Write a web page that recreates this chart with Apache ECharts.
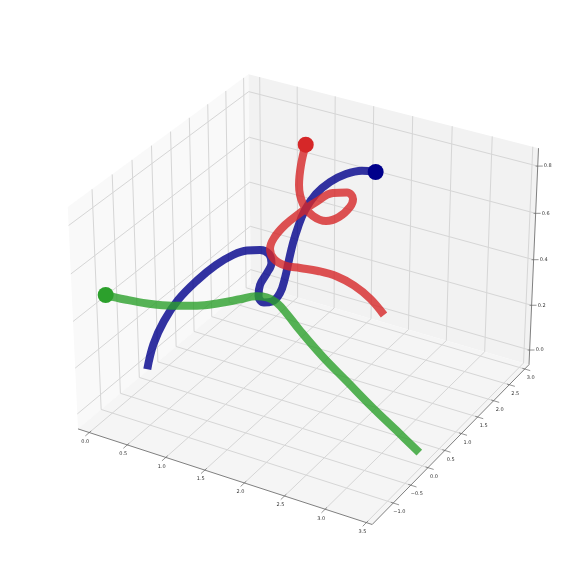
<!DOCTYPE html>
<html style="height: 100%">
    <head>
        <meta charset="utf-8">
        <title>3D trajectories</title>
        <script type="text/javascript" src="https://cdn.jsdelivr.net/npm/echarts@6/dist/echarts.min.js"></script>
    </head>
    <body style="height: 100%; margin: 0; background: #fff">
        <div id="container" style="width: 586px; height: 586px"></div>
        <script type="text/javascript">

        // axis ticks
        var xTicks = [0, 0.5, 1, 1.5, 2, 2.5, 3, 3.5];
        var yTicks = [-1, -0.5, 0, 0.5, 1, 1.5, 2, 2.5, 3];
        var zTicks = [0, 0.2, 0.4, 0.6, 0.8];
        var xLim = [-0.15, 3.57];
        var yLim = [-1.59, 3.14];
        var zLim = [-0.066, 0.875];

        // red trajectory
        var redX = [1.094,1.180,1.231,1.327,1.426,1.529,1.555,1.520,1.430,1.266,1.106,0.991,0.909,0.823,0.760,0.716,0.766,0.872,0.971,1.108,1.259,1.432,1.641,1.867];
        var redY = [2.081,1.758,1.590,1.492,1.556,1.699,2.016,2.417,2.712,2.905,2.850,2.607,2.320,2.076,1.895,1.874,1.878,1.965,2.183,2.410,2.638,2.760,2.772,2.680];
        var redZ = [.80,.76,.70,.64,.59,.56,.54,.53,.52,.51,.50,.48,.46,.43,.39,.34,.30,.27,.24,.21,.17,.13,.09,.05];

        // blue trajectory
        var blueX = [1.819,1.644,1.472,1.356,1.279,1.252,1.274,1.303,1.352,1.412,1.428,1.368,1.250,1.098,0.986,0.942,0.896,0.792,0.656,0.506,0.394,0.264,0.153,0.062,0.038,0.071,0.144];
        var blueY = [2.478,2.479,2.401,2.198,1.966,1.713,1.466,1.261,1.040,0.797,0.623,0.529,0.560,0.733,1.013,1.303,1.529,1.682,1.718,1.669,1.510,1.305,1.006,0.665,0.328,-0.026,-0.347];
        var blueZ = [.70,.69,.67,.65,.62,.58,.54,.50,.46,.42,.38,.35,.33,.32,.32,.33,.34,.35,.35,.34,.33,.30,.26,.21,.16,.11,.05];

        // green trajectory
        var greenX = [0.277,0.451,0.617,0.764,0.916,1.022,1.117,1.183,1.275,1.381,1.522,1.776,2.129,2.491,2.863,3.201,3.529];
        var greenY = [-1.563,-1.426,-1.205,-0.869,-0.533,-0.147,0.191,0.486,0.590,0.639,0.611,0.420,0.284,0.152,0.045,-0.046,-0.168];
        var greenZ = [.55,.53,.50,.46,.43,.40,.38,.36,.35,.33,.30,.28,.22,.17,.11,.06,.02];

        // camera, same maths as a default mplot3d view (elev 30, azim -60)
        var SCALE = 295, CX = 307.5, CY = 289, DIST = 10;
        var BOX_XY = 1.1428, BOX_Z = 0.8572;
        var el = 30 * Math.PI / 180, az = -60 * Math.PI / 180;
        var ux = -Math.sin(az), uy = Math.cos(az);
        var ex = Math.cos(el) * Math.cos(az), ey = Math.cos(el) * Math.sin(az), ez = Math.sin(el);
        var vx = -ez * uy, vy = ez * ux, vz = ex * uy - ey * ux;

        function project(x, y, z) {
            var X = ((x - xLim[0]) / (xLim[1] - xLim[0]) - 0.5) * BOX_XY;
            var Y = ((y - yLim[0]) / (yLim[1] - yLim[0]) - 0.5) * BOX_XY;
            var Z = ((z - zLim[0]) / (zLim[1] - zLim[0]) - 0.5) * BOX_Z;
            var f = DIST / (DIST - (ex * X + ey * Y + ez * Z));
            return [CX + SCALE * (ux * X + uy * Y) * f, CY - SCALE * (vx * X + vy * Y + vz * Z) * f];
        }

        function track(xs, ys, zs) {
            return xs.map(function (x, i) { return project(x, ys[i], zs[i]); });
        }

        var x0 = xLim[0], x1 = xLim[1], y0 = yLim[0], y1 = yLim[1], z0 = zLim[0], z1 = zLim[1];

        var panes = [
            { fill: '#f9f9f9', pts: [[x0,y0,z0],[x0,y1,z0],[x0,y1,z1],[x0,y0,z1]] },
            { fill: '#f2f2f2', pts: [[x0,y1,z0],[x1,y1,z0],[x1,y1,z1],[x0,y1,z1]] },
            { fill: '#f5f5f5', pts: [[x0,y0,z0],[x1,y0,z0],[x1,y1,z0],[x0,y1,z0]] }
        ];

        var gridLines = [];
        xTicks.forEach(function (t) { gridLines.push([[t,y0,z0],[t,y1,z0],[t,y1,z1]]); });
        yTicks.forEach(function (t) { gridLines.push([[x1,t,z0],[x0,t,z0],[x0,t,z1]]); });
        zTicks.forEach(function (t) { gridLines.push([[x0,y0,t],[x0,y1,t],[x1,y1,t]]); });

        var axisLines = [[[x0,y0,z0],[x1,y0,z0]], [[x1,y0,z0],[x1,y1,z0]], [[x1,y1,z0],[x1,y1,z1]]];

        var tickMarks = [];
        var tickLabels = [];
        function fmt(t) {
            return t.toFixed(1).replace('-', '\u2212');
        }
        xTicks.forEach(function (t) {
            tickMarks.push([[t,y0-0.1,z0],[t,y0+0.05,z0]]);
            tickLabels.push({ at: [t,y0,z0], dx: -4, dy: 9, text: fmt(t) });
        });
        yTicks.forEach(function (t) {
            tickMarks.push([[x1+0.07,t,z0],[x1-0.03,t,z0]]);
            tickLabels.push({ at: [x1,t,z0], dx: 6, dy: 9, text: fmt(t) });
        });
        zTicks.forEach(function (t) {
            tickMarks.push([[x1+0.048,y1+0.037,t],[x1-0.02,y1-0.015,t]]);
            tickLabels.push({ at: [x1,y1,t], dx: 10, dy: 0, text: fmt(t) });
        });

        function flat(p) { return project(p[0], p[1], p[2]); }

        // box, grid and ticks, all one custom item
        function renderBox(params, api) {
            var kids = [];
            function pix(p) { return api.coord(flat(p)); }
            panes.forEach(function (p) {
                kids.push({ type: 'polygon', shape: { points: p.pts.map(pix) }, style: { fill: p.fill } });
            });
            gridLines.forEach(function (l) {
                kids.push({ type: 'polyline', shape: { points: l.map(pix) }, style: { fill: null, stroke: '#d6d6d6', lineWidth: 1 } });
            });
            axisLines.forEach(function (l) {
                kids.push({ type: 'polyline', shape: { points: l.map(pix) }, style: { fill: null, stroke: '#808080', lineWidth: 1 } });
            });
            tickMarks.forEach(function (l) {
                kids.push({ type: 'polyline', shape: { points: l.map(pix) }, style: { fill: null, stroke: '#666', lineWidth: 0.7 } });
            });
            tickLabels.forEach(function (l) {
                var c = pix(l.at);
                kids.push({ type: 'text', style: { x: c[0] + l.dx, y: c[1] + l.dy, text: l.text, fill: '#333', align: 'center', verticalAlign: 'middle', font: "5px 'DejaVu Sans'" } });
            });
            return { type: 'group', children: kids };
        }

        function pathSeries(name, data, color, z) {
            return {
                name: name, type: 'line', data: data, z: z, smooth: 0.4, showSymbol: false, symbol: 'none', clip: false,
                lineStyle: { color: color, width: 8, opacity: 0.8, cap: 'butt', join: 'round' }
            };
        }
        function startSeries(name, point, color) {
            return { name: name, type: 'scatter', data: [point], z: 10, symbol: 'circle', symbolSize: 16, clip: false, itemStyle: { color: color, opacity: 1 } };
        }

        var blue = track(blueX, blueY, blueZ);
        var red = track(redX, redY, redZ);
        var green = track(greenX, greenY, greenZ);

        var myChart = echarts.init(document.getElementById('container'), null, { renderer: 'canvas' });
        var option = {
            animation: false,
            backgroundColor: '#fff',
            tooltip: { show: false },
            grid: { left: 0, right: 0, top: 0, bottom: 0 },
            xAxis: { type: 'value', min: 0, max: 586, show: false },
            yAxis: { type: 'value', min: 0, max: 586, inverse: true, show: false },
            series: [
                { type: 'custom', z: 1, data: [[0, 0]], renderItem: renderBox, silent: true, clip: false },
                pathSeries('blue', blue, '#00008b', 3),
                pathSeries('green', green, '#2ca02c', 4),
                pathSeries('red', red, '#d62728', 5),
                startSeries('blue start', blue[0], '#00008b'),
                startSeries('green start', green[0], '#2ca02c'),
                startSeries('red start', red[0], '#d62728')
            ]
        };
        myChart.setOption(option);
        </script>
    </body>
</html>
